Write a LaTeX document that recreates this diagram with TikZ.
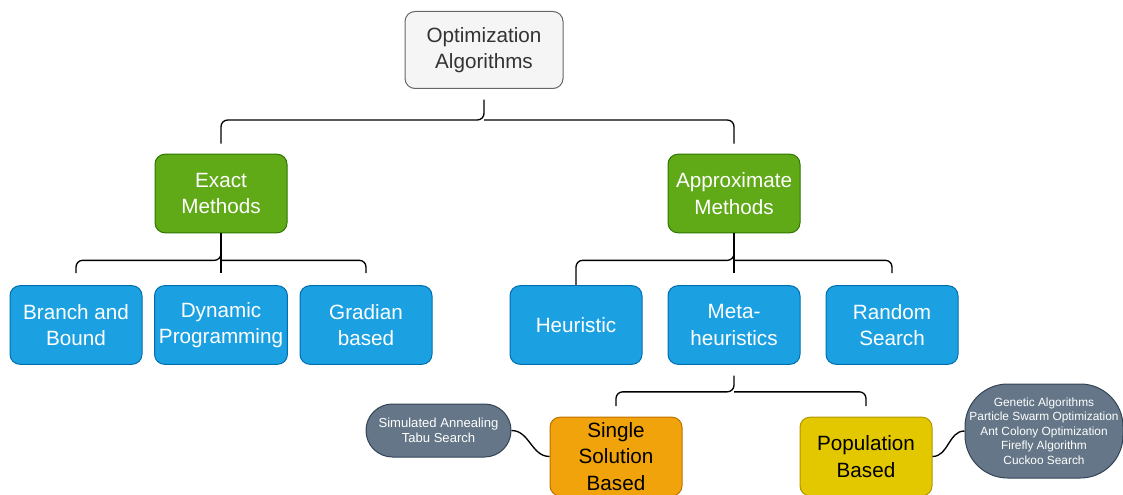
\documentclass[tikz,border=0pt]{standalone}
\usepackage{fontspec}
\setmainfont{Liberation Sans}
\usepackage{xcolor}
\usetikzlibrary{positioning, calc}

\definecolor{rootfill}{HTML}{F5F5F5}
\definecolor{rootline}{HTML}{666666}
\definecolor{roottext}{HTML}{333333}
\definecolor{greenfill}{HTML}{60A917}
\definecolor{greenline}{HTML}{2D7600}
\definecolor{bluefill}{HTML}{1BA1E2}
\definecolor{blueline}{HTML}{006EAF}
\definecolor{orangefill}{HTML}{F0A30A}
\definecolor{orangeline}{HTML}{BD7000}
\definecolor{yellowfill}{HTML}{E3C800}
\definecolor{yellowline}{HTML}{B09500}
\definecolor{slatefill}{HTML}{647687}
\definecolor{slateline}{HTML}{314354}

\begin{document}
\begin{tikzpicture}[x=0.75pt, y=-0.75pt,
    box/.style={rectangle, rounded corners=7.5pt, draw, line width=0.75pt, minimum width=99pt, minimum height=59pt, align=center, font=\fontsize{15.5}{20}\selectfont},
    root/.style={box, fill=rootfill, draw=rootline, text=roottext, minimum width=118.5pt, minimum height=57.75pt},
    family/.style={box, fill=greenfill, draw=greenline, text=white},
    method/.style={box, fill=bluefill, draw=blueline, text=white},
    single/.style={box, fill=orangefill, draw=orangeline, text=black},
    popul/.style={box, fill=yellowfill, draw=yellowline, text=black},
    examples/.style={rectangle, draw=slateline, fill=slatefill, text=white, line width=0.75pt, align=center, inner sep=2pt},
    brace/.style={draw=black, line width=1pt, rounded corners=5pt},
    link/.style={draw=black, line width=1pt}
]
    \useasboundingbox (0,0) rectangle (1123,495);

    % Root
    \node[root] (opt) at (484,50) {Optimization\\Algorithms};

    % Families
    \node[family] (exact) at (221,193.5) {Exact\\Methods};
    \node[family] (approx) at (734,193.5) {Approximate\\Methods};

    % Exact methods
    \node[method] (bnb) at (76,325) {Branch and\\Bound};
    \node[method] (dynprog) at (221,325) {Dynamic\\Programming};
    \node[method] (gradient) at (366,325) {Gradian\\based};

    % Approximate methods
    \node[method] (heur) at (576,325) {Heuristic};
    \node[method] (meta) at (734,325) {Meta-\\heuristics};
    \node[method] (random) at (892,325) {Random\\Search};

    % Metaheuristic kinds
    \node[single] (ssb) at (616,456.5) {Single\\Solution\\Based};
    \node[popul] (pop) at (866,456.5) {Population\\Based};

    % Examples
    \node[examples, minimum width=108.75pt, minimum height=39.75pt, rounded corners=19.8pt, font=\fontsize{9.8}{11.3}\selectfont] (ssbex) at (438.5,430.5) {Simulated Annealing\\Tabu Search};
    \node[examples, minimum width=118.5pt, minimum height=70.5pt, rounded corners=32pt, font=\fontsize{8.9}{10.9}\selectfont] (popex) at (1044,431) {Genetic Algorithms\\Particle Swarm Optimization\\Ant Colony Optimization\\Firefly Algorithm\\Cuckoo Search};

    % Braces
    \coordinate (jtop) at (484,120);
    \draw[brace] ([yshift=7.5pt]exact.north) |- (jtop) -- ([yshift=-8pt]opt.south);
    \draw[brace] ([yshift=7.5pt]approx.north) |- (jtop);

    \coordinate (jexact) at ($(exact.south)+(0,27)$);
    \draw[brace] ([yshift=9pt]bnb.north) |- (jexact) -- (exact.south);
    \draw[brace] ([yshift=9pt]gradient.north) |- (jexact);
    \draw[link] (exact.south) -- ([yshift=9pt]dynprog.north);

    \coordinate (japprox) at ($(approx.south)+(0,27)$);
    \draw[brace] (heur.north) |- (japprox) -- (approx.south);
    \draw[brace] ([yshift=9pt]random.north) |- (japprox);
    \draw[link] (approx.south) -- ([yshift=9pt]meta.north);

    \coordinate (jmeta) at ($(meta.south)+(0,27)$);
    \draw[brace] ([yshift=8pt]ssb.north) |- (jmeta) -- ([yshift=-8pt]meta.south);
    \draw[brace] ([yshift=8pt]pop.north) |- (jmeta);

    % Example links
    \draw[link] (ssbex.east) to[out=0, in=180] (ssb.west);
    \draw[link] (pop.east) to[out=0, in=180] (popex.west);
\end{tikzpicture}
\end{document}
